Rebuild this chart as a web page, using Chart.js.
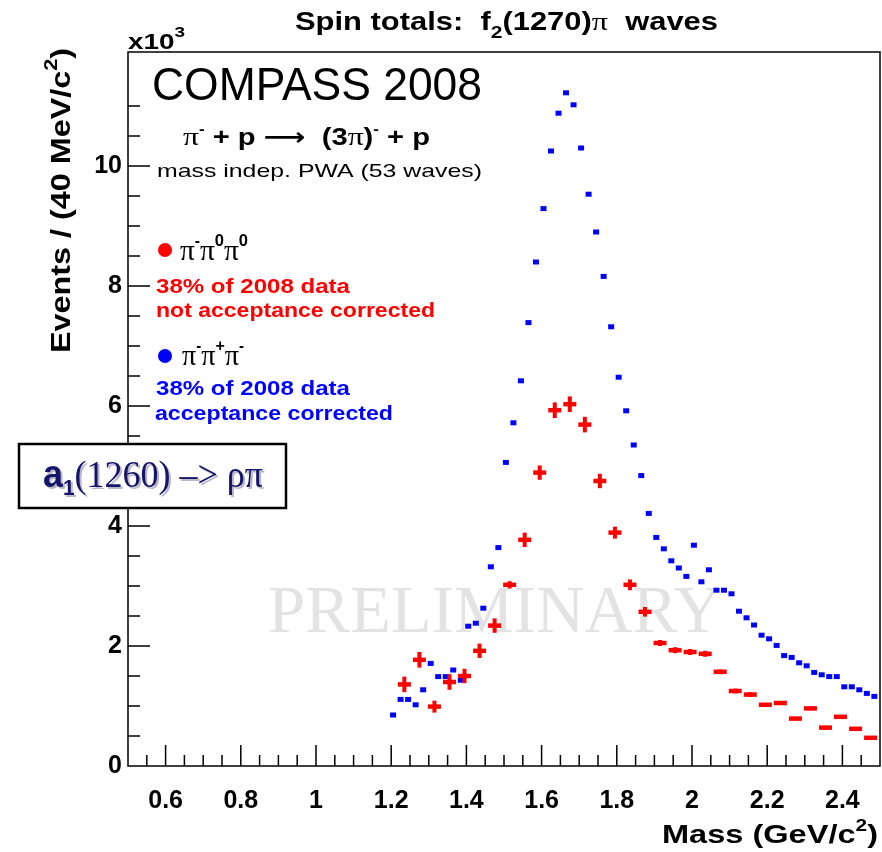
<!DOCTYPE html>
<html lang="en">
<head>
<meta charset="UTF-8">
<title>Spin totals: f2(1270)pi waves</title>
<script src="https://cdn.jsdelivr.net/npm/chart.js"></script>
<style>
  body { margin: 0; background: #fff; }
</style>
</head>
<body>
<canvas id="chart" width="882" height="852"></canvas>
<script>
// pi- pi0 pi0 (red), 40 MeV bins, x10^3 events
const redMass = [1.235, 1.275, 1.315, 1.355, 1.395, 1.435, 1.475, 1.515, 1.555, 1.595, 1.635, 1.675, 1.715, 1.755, 1.795, 1.835, 1.875,
                 1.915, 1.955, 1.995, 2.035, 2.075, 2.115, 2.155, 2.195, 2.235, 2.275, 2.315, 2.355, 2.395, 2.435, 2.475];
const redVals = [1.36, 1.77, 0.99, 1.40, 1.50, 1.92, 2.34, 3.02, 3.77, 4.89, 5.93, 6.03, 5.69, 4.75, 3.89, 3.02, 2.57,
                 2.05, 1.93, 1.90, 1.87, 1.57, 1.25, 1.19, 1.02, 1.05, 0.79, 0.96, 0.64, 0.82, 0.62, 0.47];
const redErr  = [0.13, 0.13, 0.10, 0.13, 0.12, 0.12, 0.12, 0.06, 0.12, 0.12, 0.13, 0.13, 0.13, 0.12, 0.10, 0.09, 0.08,
                 0.05, 0.05, 0.05, 0.05, 0.04, 0.04, 0.04, 0.03, 0.03, 0.03, 0.03, 0.03, 0.03, 0.03, 0.02];

// pi- pi+ pi- (blue), 20 MeV bins
const blueMass = [1.205, 1.225, 1.245, 1.265, 1.285, 1.305, 1.325, 1.345, 1.365, 1.385, 1.405, 1.425, 1.445, 1.465, 1.485,
                  1.505, 1.525, 1.545, 1.565, 1.585, 1.605, 1.625, 1.645, 1.665, 1.685, 1.705, 1.725, 1.745, 1.765, 1.785,
                  1.805, 1.825, 1.845, 1.865, 1.885, 1.905, 1.925, 1.945, 1.965, 1.985, 2.005, 2.025, 2.045, 2.065, 2.085,
                  2.105, 2.125, 2.145, 2.165, 2.185, 2.205, 2.225, 2.245, 2.265, 2.285, 2.305, 2.325, 2.345, 2.365, 2.385,
                  2.405, 2.425, 2.445, 2.465, 2.485];
const blueVals = [0.85, 1.11, 1.11, 1.02, 1.27, 1.71, 1.49, 1.49, 1.60, 1.43, 2.33, 2.38, 2.63, 3.32, 3.64,
                  5.06, 5.72, 6.42, 7.39, 8.40, 9.29, 10.25, 10.88, 11.22, 11.02, 10.30, 9.53, 8.90, 8.16, 7.32,
                  6.48, 5.92, 5.35, 4.84, 4.21, 3.81, 3.62, 3.42, 3.30, 3.16, 3.68, 3.07, 3.27, 2.93, 2.93,
                  2.87, 2.58, 2.47, 2.35, 2.18, 2.12, 2.01, 1.84, 1.81, 1.72, 1.67, 1.56, 1.52, 1.49, 1.49,
                  1.32, 1.32, 1.27, 1.21, 1.16];

const xLabels = ['0.6', '0.8', '1', '1.2', '1.4', '1.6', '1.8', '2', '2.2', '2.4'];
const yLabels = ['0', '2', '4', '6', '8', '10'];

const SANS = '"Liberation Sans", Arial, Helvetica, sans-serif';
const SERIF = '"Liberation Serif", "Times New Roman", serif';

// draw a row of text pieces [text, font, dy], squeezed to a given width
function rich(ctx, parts, x, y, width, color) {
  ctx.save();
  let total = 0;
  parts.forEach(p => { ctx.font = p[1]; total += ctx.measureText(p[0]).width; });
  const k = width ? width / total : 1;
  ctx.translate(x, y);
  ctx.scale(k, 1);
  ctx.fillStyle = color || '#000';
  ctx.textBaseline = 'alphabetic';
  ctx.textAlign = 'left';
  let cx = 0;
  parts.forEach(p => {
    ctx.font = p[1];
    ctx.fillText(p[0], cx, p[2] || 0);
    cx += ctx.measureText(p[0]).width;
  });
  ctx.restore();
}

const deco = {
  id: 'deco',
  beforeDatasetsDraw(chart) {
    const ctx = chart.ctx;
    rich(ctx, [['PRELIMINARY', '68px ' + SERIF]], 268, 632, 454, '#e3e3e3');
  },
  afterDatasetsDraw(chart) {
    const ctx = chart.ctx, a = chart.chartArea;
    const ys = chart.scales.y;
    const meta = chart.getDatasetMeta(0);
    ctx.save();
    ctx.beginPath();
    ctx.rect(a.left, a.top, a.right - a.left, a.bottom - a.top);
    ctx.clip();
    ctx.strokeStyle = '#ff0000';
    ctx.lineWidth = 4;
    meta.data.forEach((pt, i) => {
      ctx.beginPath();
      ctx.moveTo(pt.x, ys.getPixelForValue(redVals[i] - redErr[i]));
      ctx.lineTo(pt.x, ys.getPixelForValue(redVals[i] + redErr[i]));
      ctx.stroke();
    });
    ctx.restore();
  },
  afterDraw(chart) {
    const ctx = chart.ctx, a = chart.chartArea;
    const xs = chart.scales.x, ys = chart.scales.y;

    // frame and inward ticks
    ctx.save();
    ctx.strokeStyle = '#000';
    ctx.lineWidth = 1.5;
    ctx.strokeRect(a.left, a.top, a.right - a.left, a.bottom - a.top);
    ctx.beginPath();
    xs.ticks.forEach(t => {
      const n = Math.round(t.value * 100);
      if (Math.abs(t.value * 100 - n) > 1e-6 || n % 5 !== 0 || n <= 50 || n >= 250) return;
      const px = xs.getPixelForValue(t.value);
      const len = n % 20 === 0 ? 21 : 11;
      ctx.moveTo(px, a.bottom);
      ctx.lineTo(px, a.bottom - len);
    });
    ys.ticks.forEach(t => {
      const n = Math.round(t.value * 2);
      if (Math.abs(t.value * 2 - n) > 1e-6 || n <= 0) return;
      const py = ys.getPixelForValue(t.value);
      const len = n % 4 === 0 ? 22 : 12;
      ctx.moveTo(a.left, py);
      ctx.lineTo(a.left + len, py);
    });
    ctx.stroke();
    ctx.restore();

    // titles
    rich(ctx, [['Spin totals:  f', 'bold 25px ' + SANS], ['2', 'bold 17px ' + SANS, 8],
               ['(1270)', 'bold 25px ' + SANS], ['\u03C0', '26px ' + SERIF], ['  waves', 'bold 25px ' + SANS]], 295, 30, 423);
    rich(ctx, [['x10', 'bold 22px ' + SANS], ['3', 'bold 15px ' + SANS, -12]], 128, 49, 57);
    rich(ctx, [['Mass (GeV/c', 'bold 25px ' + SANS], ['2', 'bold 16px ' + SANS, -12], [')', 'bold 25px ' + SANS]], 662, 843, 216);

    ctx.save();
    ctx.translate(70, 353);
    ctx.rotate(-Math.PI / 2);
    rich(ctx, [['Events / (40 MeV/c', 'bold 27px ' + SANS], ['2', 'bold 18px ' + SANS, -13], [')', 'bold 27px ' + SANS]], 0, 0, 305);
    ctx.restore();

    // annotations
    rich(ctx, [['COMPASS 2008', '46px ' + SANS]], 152, 100, 330);
    rich(ctx, [['\u03C0', '26px ' + SERIF], ['-', 'bold 14px ' + SANS, -11], [' + p ', 'bold 24px ' + SANS],
               ['\u27F6', 'bold 24px "DejaVu Sans", sans-serif'], ['  (3', 'bold 24px ' + SANS], ['\u03C0', '26px ' + SERIF],
               [')', 'bold 24px ' + SANS], ['-', 'bold 14px ' + SANS, -11], [' + p', 'bold 24px ' + SANS]], 183, 145, 247);
    rich(ctx, [['mass indep. PWA (53 waves)', '19px ' + SANS]], 157, 177, 325);

    ctx.save();
    ctx.fillStyle = '#ff0000';
    ctx.beginPath(); ctx.arc(165, 250, 7, 0, Math.PI * 2); ctx.fill();
    ctx.fillStyle = '#0000ff';
    ctx.beginPath(); ctx.arc(165, 356, 7, 0, Math.PI * 2); ctx.fill();
    ctx.restore();

    rich(ctx, [['\u03C0', '30px ' + SERIF], ['-', 'bold 16px ' + SANS, -14], ['\u03C0', '30px ' + SERIF], ['0', 'bold 17px ' + SANS, -14],
               ['\u03C0', '30px ' + SERIF], ['0', 'bold 17px ' + SANS, -14]], 180, 260, 68);
    rich(ctx, [['38% of 2008 data', 'bold 20px ' + SANS]], 156, 293, 194, '#ff0000');
    rich(ctx, [['not acceptance corrected', 'bold 20px ' + SANS]], 156, 317, 279, '#ff0000');
    rich(ctx, [['\u03C0', '30px ' + SERIF], ['-', 'bold 16px ' + SANS, -14], ['\u03C0', '30px ' + SERIF], ['+', 'bold 17px ' + SANS, -14],
               ['\u03C0', '30px ' + SERIF], ['-', 'bold 16px ' + SANS, -14]], 182, 365, 62);
    rich(ctx, [['38% of 2008 data', 'bold 20px ' + SANS]], 156, 395, 194, '#0000ff');
    rich(ctx, [['acceptance corrected', 'bold 20px ' + SANS]], 155, 420, 238, '#0000ff');

    // a1 box
    ctx.save();
    ctx.fillStyle = '#fff';
    ctx.fillRect(19, 444, 267, 64);
    ctx.strokeStyle = '#000';
    ctx.lineWidth = 2.5;
    ctx.strokeRect(19, 444, 267, 64);
    ctx.restore();
    const boxParts = [['a', 'bold 38px ' + SANS], ['1', 'bold 22px ' + SANS, 8], ['(1260) \u2013> \u03C1\u03C0', '38px ' + SERIF]];
    rich(ctx, boxParts, 45, 489, 220, '#b8b8c8');
    rich(ctx, boxParts, 43, 487, 220, '#15156a');
  }
};

const ctx = document.getElementById('chart').getContext('2d');
new Chart(ctx, {
  type: 'scatter',
  data: {
    datasets: [
      {
        label: '\u03C0-\u03C00\u03C00',
        data: redMass.map((m, i) => ({ x: m, y: redVals[i] })),
        pointStyle: 'line',
        pointRadius: 6.5,
        pointHoverRadius: 6.5,
        borderWidth: 4.5,
        borderColor: '#ff0000',
        backgroundColor: '#ff0000'
      },
      {
        label: '\u03C0-\u03C0+\u03C0-',
        data: blueMass.map((m, i) => ({ x: m, y: blueVals[i] })),
        pointStyle: 'line',
        pointRadius: 3,
        pointHoverRadius: 3,
        borderWidth: 5,
        borderColor: '#0000ff',
        backgroundColor: '#0000ff'
      }
    ]
  },
  options: {
    responsive: false,
    animation: false,
    layout: { autoPadding: false, padding: { top: 52, right: 2, left: 0, bottom: 0 } },
    plugins: { legend: { display: false }, tooltip: { enabled: false } },
    scales: {
      x: {
        type: 'linear',
        min: 0.5,
        max: 2.5,
        afterFit: s => { s.height = 86; s.paddingLeft = 0; s.paddingRight = 0; },
        grid: { display: false, drawTicks: false },
        border: { display: false },
        ticks: {
          stepSize: 0.05,
          autoSkip: false,
          maxRotation: 0,
          padding: 20,
          color: '#000',
          font: { family: SANS, size: 25, weight: 'bold' },
          callback: v => {
            const n = Math.round(v * 100);
            const s = String(n / 100);
            return (n % 20 === 0 && xLabels.includes(s)) ? s : '';
          }
        }
      },
      y: {
        min: 0,
        max: 11.9,
        afterFit: s => { s.width = 128; s.paddingTop = 0; s.paddingBottom = 0; },
        grid: { display: false, drawTicks: false },
        border: { display: false },
        ticks: {
          stepSize: 0.5,
          autoSkip: false,
          padding: 6,
          color: '#000',
          font: { family: SANS, size: 25, weight: 'bold' },
          callback: v => {
            const s = String(Math.round(v * 100) / 100);
            return yLabels.includes(s) ? s : '';
          }
        }
      }
    }
  },
  plugins: [deco]
});
</script>
</body>
</html>
